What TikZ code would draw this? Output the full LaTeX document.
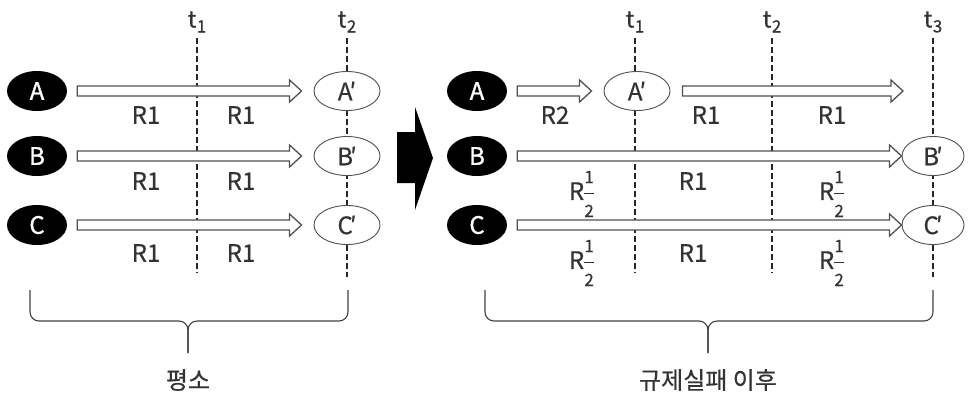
\documentclass[tikz,border=0pt]{standalone}
\usepackage{fontspec}
\usepackage{amsmath}
\setmainfont{Noto Sans CJK KR}[FakeBold=0.5]
\newfontfamily\whitefont{Noto Sans CJK KR}[FakeBold=1.2]
\usetikzlibrary{shapes.geometric}
\pgfdeclarelayer{bg}
\pgfsetlayers{bg,main}
\definecolor{txt}{HTML}{333333}
\definecolor{edge}{HTML}{505050}
\newcommand\harrow[2]{\draw[harr] ([yshift=5pt]#1) -- ([xshift=-12pt,yshift=5pt]#2) -- ([xshift=-12pt,yshift=11pt]#2) -- (#2) -- ([xshift=-12pt,yshift=-11pt]#2) -- ([xshift=-12pt,yshift=-5pt]#2) -- ([yshift=-5pt]#1) -- cycle;}
\newcommand\fr[1]{\text{\fontsize{17}{17}\selectfont #1}}
\newcommand\rhalf{R\kern-1pt$\dfrac{\fr{1}}{\fr{2}}$}
\newcommand\tsub[2]{#1\kern0.5pt\raisebox{-5pt}{\fontsize{17}{17}\selectfont #2}}
\newcommand\pr[1]{#1\kern-3pt′}
\begin{document}
\begin{tikzpicture}[x=1pt,y=-1pt,
  src/.style={ellipse, fill=black, text=white, minimum width=60pt, minimum height=40pt, inner sep=0pt, font=\whitefont\fontsize{24}{24}\selectfont},
  dst/.style={ellipse, draw=edge, line width=0.9pt, fill=white, minimum width=66pt, minimum height=39pt, inner sep=0pt, text=txt, font=\fontsize{24}{24}\selectfont},
  lbl/.style={text=txt, inner sep=0pt, font=\fontsize{24}{24}\selectfont},
  tlab/.style={text=txt, inner sep=1pt, font=\fontsize{23}{23}\selectfont},
  tline/.style={line width=2.2pt, dash pattern=on 6pt off 3pt, black!85},
  harr/.style={draw=edge, line width=1.3pt, fill=white, line join=miter},
  brace/.style={draw=black!75, line width=1.1pt, rounded corners=9pt},
  captext/.style={text=txt, inner sep=0pt, font=\fontsize{24}{24}\selectfont}]
\useasboundingbox (0,0) rectangle (973,394);
% ---------- left panel ----------
\node[src] (A) at (37,91) {A};
\node[src] (B) at (37,156) {B};
\node[src] (C) at (37,225) {C};
\node[dst] (Ap) at (347,91) {\pr{A}};
\node[dst] (Bp) at (347,156) {\pr{B}};
\node[dst] (Cp) at (347,225) {\pr{C}};
\node[tlab] (lt1) at (197,22) {\tsub{t}{1}};
\node[tlab] (lt2) at (347,22) {\tsub{t}{2}};
\coordinate (lt1b) at (197,273);
\coordinate (lt2b) at (347,277);
\begin{pgfonlayer}{bg}
\draw[tline] (197,38) -- (lt1b);
\draw[tline] (347,38) -- (lt2b);
\end{pgfonlayer}
\foreach \s/\d in {A/Ap,B/Bp,C/Cp}{
  \coordinate (\s s) at ([xshift=10pt]\s.east);
  \coordinate (\s e) at ([xshift=-12pt]\d.west);
  \harrow{\s s}{\s e}
}
\foreach \n/\y in {a/115,b/181,c/253}{
  \node[lbl] (L\n1) at (146,\y) {R1};
  \node[lbl] (L\n2) at (241,\y) {R1};
}
\draw[brace] (30,290) -- (30,321) -- (188,321) -- (188,353);
\draw[brace] (348,290) -- (348,321) -- (188,321) -- (188,353);
\node[captext] (cap1) at (188,380) {평소};
% ---------- big arrow ----------
\fill[black] (397,132) -- (415,132) -- (415,107) -- (433,158) -- (415,210) -- (415,183) -- (397,183) -- cycle;
% ---------- right panel ----------
\node[src] (RA) at (477,91) {A};
\node[src] (RB) at (477,156) {B};
\node[src] (RC) at (477,225) {C};
\node[dst] (RAp) at (637,91) {\pr{A}};
\node[dst, minimum width=62pt] (RBp) at (933,156) {\pr{B}};
\node[dst, minimum width=62pt] (RCp) at (933,225) {\pr{C}};
\node[tlab] (rt1) at (635,22) {\tsub{t}{1}};
\node[tlab] (rt2) at (772,22) {\tsub{t}{2}};
\node[tlab] (rt3) at (933,22) {\tsub{t}{3}};
\coordinate (rt1b) at (635,273);
\coordinate (rt2b) at (772,273);
\coordinate (rt3b) at (933,277);
\begin{pgfonlayer}{bg}
\draw[tline] (635,38) -- (rt1b);
\draw[tline] (772,38) -- (rt2b);
\draw[tline] (933,38) -- (rt3b);
\end{pgfonlayer}
\coordinate (RAs) at ([xshift=10pt]RA.east);
\coordinate (RAe) at ([xshift=-12pt]RAp.west);
\harrow{RAs}{RAe}
\coordinate (RAps) at ([xshift=12pt]RAp.east);
\coordinate (RApe) at (903,91);
\harrow{RAps}{RApe}
\coordinate (RBs) at ([xshift=10pt]RB.east);
\coordinate (RBe) at (RBp.west);
\harrow{RBs}{RBe}
\coordinate (RCs) at ([xshift=10pt]RC.east);
\coordinate (RCe) at (RCp.west);
\harrow{RCs}{RCe}
\node[lbl] (ra1) at (555,115) {R2};
\node[lbl] (ra2) at (706,115) {R1};
\node[lbl] (ra3) at (832,115) {R1};
\node[lbl] (rb1) at (582,194) {\rhalf};
\node[lbl] (rb2) at (693,181) {R1};
\node[lbl] (rb3) at (832,194) {\rhalf};
\node[lbl] (rc1) at (582,263) {\rhalf};
\node[lbl] (rc2) at (693,253) {R1};
\node[lbl] (rc3) at (832,263) {\rhalf};
\draw[brace] (485,290) -- (485,321) -- (708,321) -- (708,353);
\draw[brace] (933,290) -- (933,321) -- (708,321) -- (708,353);
\node[captext] (cap2) at (708,380) {규제실패 이후};
\end{tikzpicture}
\end{document}
